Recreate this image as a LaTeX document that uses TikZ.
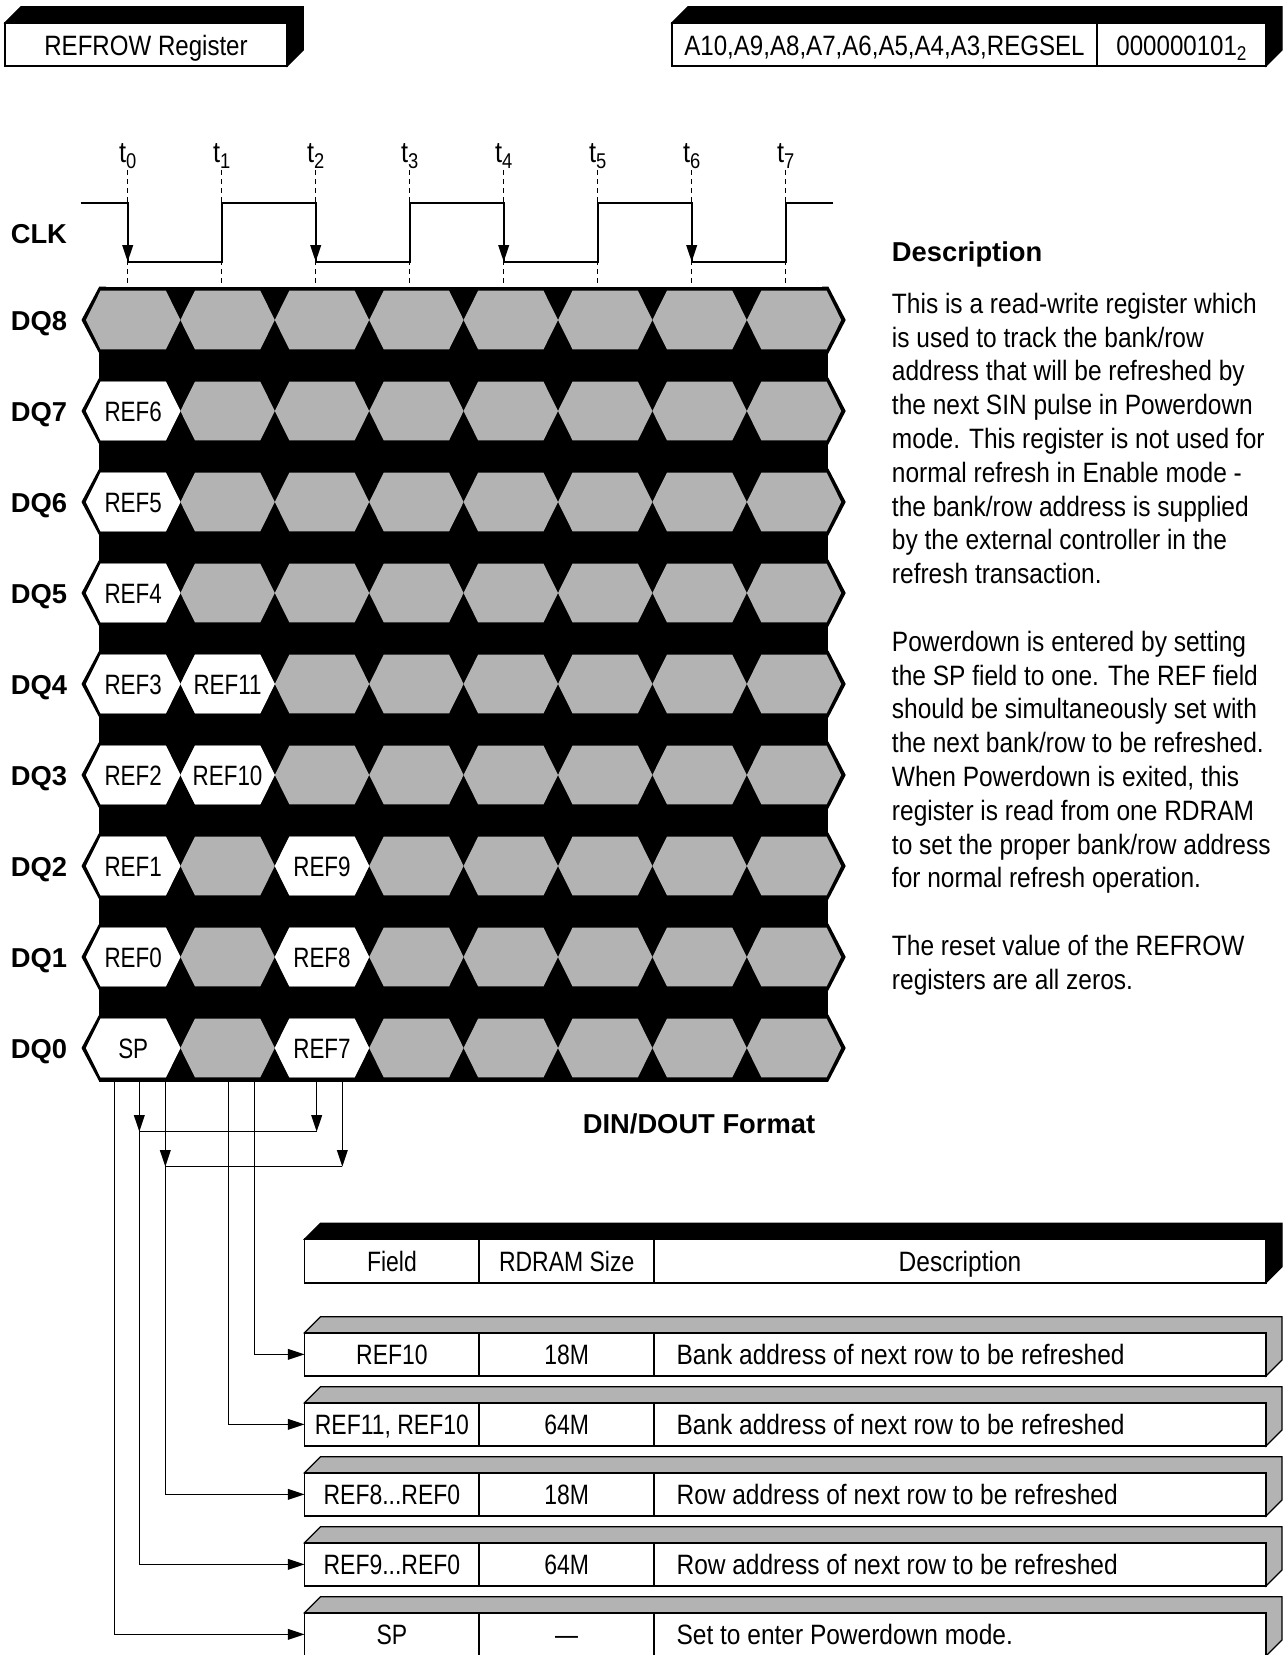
\documentclass[tikz,border=0pt]{standalone}
\usepackage{fontspec}
\setmainfont{Liberation Sans}
\newfontfamily\wideC{Liberation Sans}[FakeStretch=0.86]
\newfontfamily\paraC{Liberation Sans}[FakeStretch=0.875]
\newfontfamily\cellC{Liberation Sans}[FakeStretch=0.82]
\newfontfamily\narrowC{Liberation Sans}[FakeStretch=0.80]
\usetikzlibrary{arrows.meta}
\definecolor{hexgray}{RGB}{179,179,179}
\tikzset{
  lbl/.style={font=\fontsize{20.5pt}{24pt}\selectfont\bfseries, anchor=base west, inner sep=0pt},
  para/.style={font=\paraC\fontsize{21pt}{25pt}\selectfont, anchor=base west, inner sep=0pt},
  hexlbl/.style={font=\narrowC\fontsize{21pt}{25pt}\selectfont, anchor=base, inner sep=0pt},
  tlbl/.style={font=\wideC\fontsize{22pt}{25pt}\selectfont, anchor=base, inner sep=0pt},
  cell/.style={font=\cellC\fontsize{21pt}{25pt}\selectfont, anchor=base, inner sep=0pt},
  celld/.style={font=\paraC\fontsize{21pt}{25pt}\selectfont, anchor=base west, inner sep=0pt},
  boxt/.style={font=\wideC\fontsize{21pt}{25pt}\selectfont, anchor=base, inner sep=0pt},
  wave/.style={line width=1.3pt},
  tdash/.style={line width=0.9pt, dash pattern=on 3.75pt off 3pt},
  conn/.style={line width=1.1pt},
  arr/.style={-{Triangle[length=12.5pt,width=8pt]}},
}
\newcommand\tdbox[5]{%
  \filldraw[fill=#5, draw=black, line width=0.9pt, line join=miter]
    (#1,#2) -- (#1+16,#2-16) -- (#3+16,#2-16) -- (#3+16,#4-16) -- (#3,#4) -- (#3,#2) -- cycle;
  \filldraw[fill=white, draw=black, line width=1.4pt] (#1,#2) rectangle (#3,#4);
}
\newcommand\hexfill[3]{%
  \fill[#3] (#1,#2) -- (#1+14.5,#2-29.3) -- (#1+79.9,#2-29.3) -- (#1+94.4,#2)
    -- (#1+79.9,#2+29.3) -- (#1+14.5,#2+29.3) -- cycle;
}
\newcommand\whex[4]{%
  \pgfmathsetmacro\hexX{86+94.4*#1}%
  \pgfmathsetmacro\hexY{320+91*#2}%
  \hexfill{\hexX}{\hexY}{white}%
  \node[hexlbl] (#4) at (\hexX+47.2,\hexY+10) {#3};
}
\begin{document}
\begin{tikzpicture}[x=0.75pt,y=-0.75pt]
\useasboundingbox (0,0) rectangle (1282,1655);

% ---------- header boxes ----------
\tdbox{5}{22.7}{287.3}{66}{black}
\node[boxt] (reg) at (146,55.5) {REFROW Register};
\tdbox{672}{22.7}{1266}{66}{black}
\draw[line width=1.4pt] (1097,22.7) -- (1097,66);
\node[boxt] (addr) at (884.5,55.5) {A10,A9,A8,A7,A6,A5,A4,A3,REGSEL};
\node[boxt] (val) at (1181.5,55.5) {000000101\raisebox{-4pt}{\fontsize{15pt}{15pt}\selectfont 2}};

% ---------- time markers ----------
\foreach \i in {0,...,7} {
  \pgfmathsetmacro\tx{127.7+94*\i}
  \draw[tdash] (\tx,170) -- (\tx,286.5);
  \node[tlbl] (t\i) at (\tx,163) {t\raisebox{-4.5pt}{\fontsize{16pt}{16pt}\selectfont\i}};
}

% ---------- clock ----------
\draw[wave] (80.7,202.7) -- (127.7,202.7) -- (127.7,261.7) -- (221.7,261.7) -- (221.7,202.7)
  -- (315.7,202.7) -- (315.7,261.7) -- (409.7,261.7) -- (409.7,202.7) -- (503.7,202.7)
  -- (503.7,261.7) -- (597.7,261.7) -- (597.7,202.7) -- (691.7,202.7) -- (691.7,261.7)
  -- (785.7,261.7) -- (785.7,202.7) -- (832.7,202.7);
\foreach \i in {0,2,4,6} {
  \pgfmathsetmacro\tx{127.7+94*\i}
  \draw[wave, arr] (\tx,205) -- (\tx,261.7);
}

% ---------- row labels ----------
\node[lbl] (clk) at (10.5,243.3) {CLK};
\foreach \n in {0,...,8} {
  \pgfmathsetmacro\yc{320+91*(8-\n)}
  \node[lbl] (dq\n) at (10.5,\yc+10) {DQ\n};
}

% ---------- data band ----------
\fill (99.3,286.5) rectangle (828.3,1081.5);
\foreach \r in {0,...,8} {
  \pgfmathsetmacro\yc{320+91*\r}
  \fill (99.3,\yc-33.5) -- (81.5,\yc) -- (99.3,\yc+33.5) -- (106,\yc+33.5) -- (106,\yc-33.5) -- cycle;
  \fill (828.3,\yc-33.5) -- (845.7,\yc) -- (828.3,\yc+33.5) -- (822,\yc+33.5) -- (822,\yc-33.5) -- cycle;
  \foreach \k in {0,...,7} {
    \pgfmathsetmacro\xl{86+94.4*\k}
    \hexfill{\xl}{\yc}{hexgray}
  }
}
\whex{0}{1}{REF6}{h1a}
\whex{0}{2}{REF5}{h2a}
\whex{0}{3}{REF4}{h3a}
\whex{0}{4}{REF3}{h4a}
\whex{1}{4}{REF11}{h4b}
\whex{0}{5}{REF2}{h5a}
\whex{1}{5}{REF10}{h5b}
\whex{0}{6}{REF1}{h6a}
\whex{2}{6}{REF9}{h6c}
\whex{0}{7}{REF0}{h7a}
\whex{2}{7}{REF8}{h7c}
\whex{0}{8}{SP}{h8a}
\whex{2}{8}{REF7}{h8c}

% ---------- description text ----------
\node[lbl] (dhead) at (891.7,261.7) {Description};
\node[para] (p0)  at (891.7,313.3) {This is a read-write register which};
\node[para] (p1)  at (891.7,347.1) {is used to track the bank/row};
\node[para] (p2)  at (891.7,380.9) {address that will be refreshed by};
\node[para] (p3)  at (891.7,414.7) {the next SIN pulse in Powerdown};
\node[para] (p4)  at (891.7,448.5) {mode. This register is not used for};
\node[para] (p5)  at (891.7,482.3) {normal refresh in Enable mode -};
\node[para] (p6)  at (891.7,516.1) {the bank/row address is supplied};
\node[para] (p7)  at (891.7,549.9) {by the external controller in the};
\node[para] (p8)  at (891.7,583.7) {refresh transaction.};
\node[para] (p10) at (891.7,651.3) {Powerdown is entered by setting};
\node[para] (p11) at (891.7,685.1) {the SP field to one. The REF field};
\node[para] (p12) at (891.7,718.9) {should be simultaneously set with};
\node[para] (p13) at (891.7,752.7) {the next bank/row to be refreshed.};
\node[para] (p14) at (891.7,786.5) {When Powerdown is exited, this};
\node[para] (p15) at (891.7,820.3) {register is read from one RDRAM};
\node[para] (p16) at (891.7,854.1) {to set the proper bank/row address};
\node[para] (p17) at (891.7,887.9) {for normal refresh operation.};
\node[para] (p19) at (891.7,955.5) {The reset value of the REFROW};
\node[para] (p20) at (891.7,989.3) {registers are all zeros.};

\node[lbl, anchor=base] (din) at (699,1133.7) {DIN/DOUT Format};

% ---------- table ----------
\tdbox{304.5}{1239.3}{1266}{1282.7}{black}
\draw[line width=1.4pt] (479.3,1239.3) -- (479.3,1282.7) (654,1239.3) -- (654,1282.7);
\node[cell] (hf) at (391.9,1271.5) {Field};
\node[cell] (hs) at (566.7,1271.5) {RDRAM Size};
\node[cell, font=\paraC\fontsize{21pt}{25pt}\selectfont] (hd) at (960,1271.5) {Description};
\foreach \i in {0,...,4} {
  \pgfmathsetmacro\ya{1332.7+70*\i}
  \pgfmathsetmacro\yb{\ya+43.3}
  \tdbox{304.5}{\ya}{1266}{\yb}{hexgray}
  \draw[line width=1.4pt] (479.3,\ya) -- (479.3,\yb) (654,\ya) -- (654,\yb);
  \coordinate (e\i) at (304.5,\ya+21.65);
}
\node[cell] (f0) at (391.9,1364.8) {REF10};
\node[cell] (z0) at (566.7,1364.8) {18M};
\node[celld] (d0) at (676.3,1364.8) {Bank address of next row to be refreshed};
\node[cell] (f1) at (391.9,1434.8) {REF11, REF10};
\node[cell] (z1) at (566.7,1434.8) {64M};
\node[celld] (d1) at (676.3,1434.8) {Bank address of next row to be refreshed};
\node[cell] (f2) at (391.9,1504.8) {REF8...REF0};
\node[cell] (z2) at (566.7,1504.8) {18M};
\node[celld] (d2) at (676.3,1504.8) {Row address of next row to be refreshed};
\node[cell] (f3) at (391.9,1574.8) {REF9...REF0};
\node[cell] (z3) at (566.7,1574.8) {64M};
\node[celld] (d3) at (676.3,1574.8) {Row address of next row to be refreshed};
\node[cell] (f4) at (391.9,1644.8) {SP};
\node[cell] (z4) at (566.7,1644.8) {—};
\node[celld] (d4) at (676.3,1644.8) {Set to enter Powerdown mode.};

% ---------- connectors ----------
\coordinate (s0) at (114.3,1081.5);
\coordinate (s1) at (139.3,1081.5);
\coordinate (s2) at (165.3,1081.5);
\coordinate (s3) at (228.7,1081.5);
\coordinate (s4) at (254.7,1081.5);
\coordinate (s5) at (316.7,1081.5);
\coordinate (s6) at (342.3,1081.5);
\coordinate (m0) at (139.3,1131.7);
\coordinate (m1) at (316.7,1131.7);
\coordinate (n0) at (165.3,1166.7);
\coordinate (n1) at (342.3,1166.7);

\draw[conn] (m0) -- (m1);
\draw[conn] (n0) -- (n1);
\draw[conn, arr] (s5) -- (m1);
\draw[conn, arr] (s1) -- (m0);
\draw[conn, arr] (s6) -- (n1);
\draw[conn, arr] (s2) -- (n0);
\draw[conn, arr] (s0) |- (e4);
\draw[conn, arr] (s1) |- (e3);
\draw[conn, arr] (s2) |- (e2);
\draw[conn, arr] (s3) |- (e1);
\draw[conn, arr] (s4) |- (e0);
\end{tikzpicture}
\end{document}
